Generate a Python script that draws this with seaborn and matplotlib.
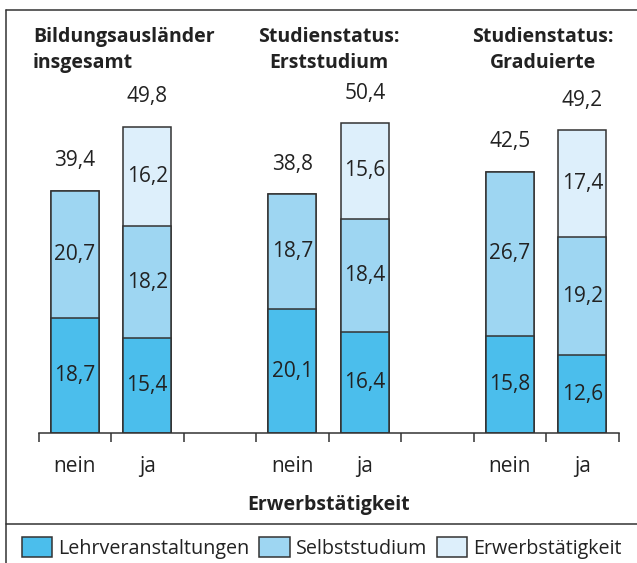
import pandas as pd
import matplotlib
matplotlib.use('Agg')
import matplotlib.pyplot as plt
import seaborn as sns
from matplotlib.patches import Patch
from matplotlib.lines import Line2D

# Daten
gruppen = ['Bildungsausländer\ninsgesamt', 'Studienstatus:\nErststudium', 'Studienstatus:\nGraduierte']
erwerb = ['nein', 'ja', 'nein', 'ja', 'nein', 'ja']
position = [0, 1, 3, 4, 6, 7]
lehr = [18.7, 15.4, 20.1, 16.4, 15.8, 12.6]
selbst = [20.7, 18.2, 18.7, 18.4, 26.7, 19.2]
erwerbstaetig = [0, 16.2, 0, 15.6, 0, 17.4]
gesamt = [39.4, 49.8, 38.8, 50.4, 42.5, 49.2]
kategorien = ['Lehrveranstaltungen', 'Selbststudium', 'Erwerbstätigkeit']
farben = ['#4bbeec', '#9ed6f2', '#ddeffb']

df = pd.DataFrame({'pos': position, 'lehr': lehr, 'selbst': selbst, 'erwerb': erwerbstaetig})
df['c1'] = df['lehr']
df['c2'] = df['c1'] + df['selbst']
df['c3'] = df['c2'] + df['erwerb']

sns.set_theme(style='white')
plt.rcParams['font.family'] = ['Open Sans', 'DejaVu Sans']
plt.rcParams['text.color'] = '#222222'

fig = plt.figure(figsize=(6.37, 5.63), dpi=100)
ax = fig.add_axes([38.5 / 637, 130 / 563, 580 / 637, 350.6 / 563])

edge = '#333333'
# gestapelt: oberste Schicht zuerst
for spalte, farbe in zip(['c3', 'c2', 'c1'], farben[::-1]):
    sns.barplot(data=df, x='pos', y=spalte, native_scale=True, orient='x',
                width=0.665, color=farbe, saturation=1, edgecolor=edge,
                linewidth=1.1, ax=ax)

ax.set_xlim(-0.5, 7.5)
ax.set_ylim(0, 57)
ax.set_xlabel('')
ax.set_ylabel('')
ax.set_yticks([])
ax.set_xticks([i - 0.5 for i in range(9)])
ax.set_xticklabels([])
ax.tick_params(axis='x', which='major', direction='out', length=6.5, width=1.1,
               color=edge, bottom=True)
for s in ['left', 'top', 'right']:
    ax.spines[s].set_visible(False)
ax.spines['bottom'].set_color(edge)
ax.spines['bottom'].set_linewidth(1.1)

fs = 15
# Werte in den Segmenten
for i, p in enumerate(position):
    unten = 0
    for wert in [lehr[i], selbst[i], erwerbstaetig[i]]:
        if wert > 0:
            ax.text(p, unten + wert / 2, f'{wert:.1f}'.replace('.', ','),
                    ha='center', va='center', fontsize=fs)
        unten += wert
    ax.annotate(f'{gesamt[i]:.1f}'.replace('.', ','), (p, gesamt[i]),
                xytext=(0, 21.5), textcoords='offset points',
                ha='center', va='center', fontsize=fs)
    ax.annotate(erwerb[i], (p, 0), xycoords=('data', 'axes fraction'),
                xytext=(0, -24), textcoords='offset points',
                ha='center', va='center', fontsize=fs)

ax.annotate('Erwerbstätigkeit', (0.5, 0), xycoords='axes fraction',
            xytext=(0, -52), textcoords='offset points',
            ha='center', va='center', fontsize=14, fontweight='bold')

# Gruppentitel
ax.text(-0.575, 62.2, gruppen[0], ha='left', va='center', fontsize=14,
        fontweight='bold', linespacing=1.4, clip_on=False)
ax.text(3.5, 62.2, gruppen[1], ha='center', va='center', fontsize=14,
        fontweight='bold', linespacing=1.4, clip_on=False)
ax.text(6.46, 62.2, gruppen[2], ha='center', va='center', fontsize=14,
        fontweight='bold', linespacing=1.4, clip_on=False)

# Rahmen
fig.add_artist(Line2D([6 / 637, 6 / 637], [0, 1 - 10 / 563], transform=fig.transFigure,
                      color=edge, lw=1.1))
fig.add_artist(Line2D([6 / 637, 1], [1 - 10 / 563] * 2, transform=fig.transFigure,
                      color=edge, lw=1.1))
fig.add_artist(Line2D([6 / 637, 1], [1 - 524 / 563] * 2, transform=fig.transFigure,
                      color=edge, lw=1.1))

handles = [Patch(facecolor=f, edgecolor=edge, linewidth=1.1) for f in farben]
fig.legend(handles, kategorien, loc='center', bbox_to_anchor=(0.505, 1 - 548 / 563),
           ncol=3, frameon=False, fontsize=14.2, handlelength=1.55, handleheight=1.2,
           handletextpad=0.3, columnspacing=0.5, borderpad=0, borderaxespad=0)

fig.savefig('out.png', dpi=100)
